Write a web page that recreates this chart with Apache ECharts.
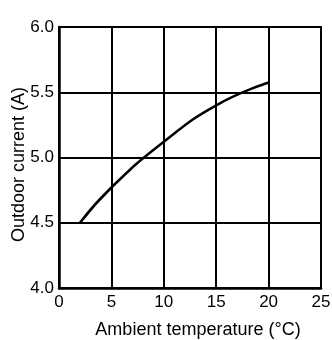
<!DOCTYPE html>
<html>
<head>
<meta charset="utf-8">
<script src="https://cdn.jsdelivr.net/npm/echarts@6/dist/echarts.min.js"></script>
<style>
  html, body { margin: 0; padding: 0; background: #fff; }
  #chart { width: 332px; height: 340px; }
</style>
</head>
<body>
<div id="chart"></div>
<script>
// Outdoor current vs ambient temperature
const temperatures = [2, 5, 10, 15, 20];
const currents = [4.5, 4.77, 5.12, 5.40, 5.575];
const xTicks = [0, 5, 10, 15, 20, 25];
const yTicks = [4.0, 4.5, 5.0, 5.5, 6.0];

const font = '"Liberation Sans", Arial, sans-serif';
const chart = echarts.init(document.getElementById('chart'), null, { renderer: 'canvas' });

chart.setOption({
  animation: false,
  grid: {
    left: 59, right: 11, top: 27, bottom: 52,
    outerBoundsMode: 'none', containLabel: false,
    show: true, borderColor: '#000', borderWidth: 2
  },
  xAxis: {
    type: 'value',
    min: xTicks[0], max: xTicks[xTicks.length - 1], interval: 5,
    name: 'Ambient temperature (°C)',
    nameLocation: 'middle', nameGap: 33, nameMoveOverlap: false,
    nameTextStyle: { fontFamily: font, fontSize: 18, color: '#000', padding: [0, 0, 0, 16] },
    axisLine: { lineStyle: { color: '#000', width: 2.5 } },
    axisTick: { show: false },
    axisLabel: { fontFamily: font, fontSize: 17, color: '#000', margin: 6,
      formatter: v => String(v) },
    splitLine: { lineStyle: { color: '#000', width: 2 } }
  },
  yAxis: {
    type: 'value',
    min: yTicks[0], max: yTicks[yTicks.length - 1], interval: 0.5,
    name: 'Outdoor current (A)',
    nameLocation: 'middle', nameGap: 31, nameMoveOverlap: false,
    nameTextStyle: { fontFamily: font, fontSize: 18, color: '#000', padding: [0, 14, 0, 0] },
    axisLine: { show: true, lineStyle: { color: '#000', width: 2.5 } },
    axisTick: { show: false },
    axisLabel: { fontFamily: font, fontSize: 17, color: '#000', margin: 5,
      formatter: v => v.toFixed(1) },
    splitLine: { lineStyle: { color: '#000', width: 2 } }
  },
  series: [{
    type: 'line',
    data: temperatures.map((t, i) => [t, currents[i]]),
    smooth: true,
    showSymbol: false,
    lineStyle: { color: '#000', width: 2.5 }
  }]
});
</script>
</body>
</html>
